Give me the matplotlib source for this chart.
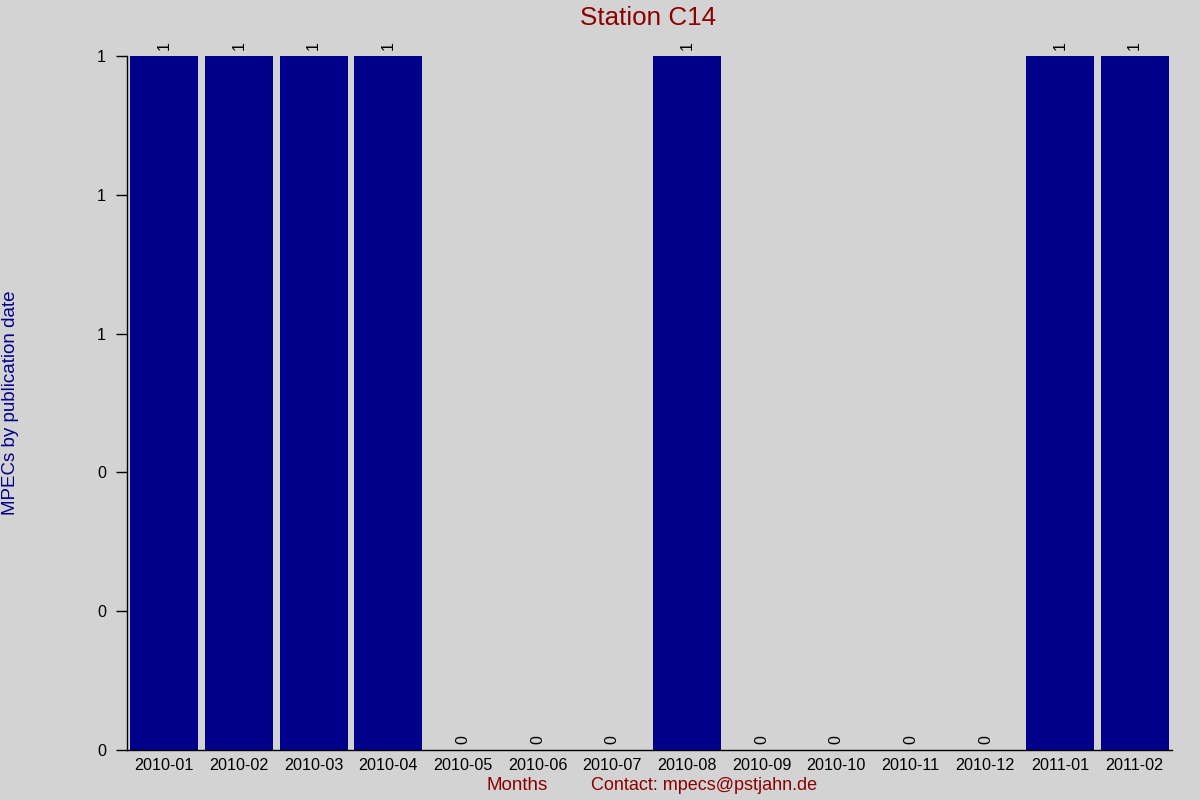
import matplotlib
matplotlib.use("Agg")
import matplotlib.pyplot as plt
from matplotlib.ticker import FixedLocator, FixedFormatter

months = ["2010-01", "2010-02", "2010-03", "2010-04", "2010-05", "2010-06", "2010-07",
          "2010-08", "2010-09", "2010-10", "2010-11", "2010-12", "2011-01", "2011-02"]
counts = [1, 1, 1, 1, 0, 0, 0, 1, 0, 0, 0, 0, 1, 1]
ytick_vals = [0, 0.2, 0.4, 0.6, 0.8, 1.0]
ytick_labels = ["0", "0", "0", "1", "1", "1"]

plt.rcParams['font.family'] = ['Liberation Sans', 'DejaVu Sans']
bg = "#d3d3d3"
fig = plt.figure(figsize=(12, 8), dpi=100, facecolor=bg)
ax = fig.add_axes([127/1200, 1 - 750/800, (1172-127)/1200, (750-56)/800])
ax.set_facecolor(bg)

x = list(range(len(months)))
ax.bar(x, counts, width=0.91, color="#00008b", zorder=2)
for xi, v in zip(x, counts):
    ax.annotate(str(v), (xi, v), xytext=(0, 4), textcoords="offset points",
                rotation=90, ha="center", va="bottom", fontsize=11.5, color="black",
                annotation_clip=False)

ax.set_xlim(-0.5, len(months) - 0.5)
ax.set_ylim(0, 1)
ax.set_xticks(x)
ax.set_xticklabels(months, fontsize=11.6)
ax.tick_params(axis="x", length=0, pad=6)
ax.yaxis.set_major_locator(FixedLocator(ytick_vals))
ax.yaxis.set_major_formatter(FixedFormatter(ytick_labels))
ax.tick_params(axis="y", length=8, width=1, labelsize=11.6, pad=7)
for s in ["top", "right"]:
    ax.spines[s].set_visible(False)
for s in ["left", "bottom"]:
    ax.spines[s].set_linewidth(1)

fig.text(648/1200, 1 - 18/800, "Station C14", ha="center", va="center", fontsize=18.7, color="#8b0000")
fig.text(11/1200, 1 - 403/800, "MPECs by publication date", rotation=90, ha="center", va="center",
         fontsize=13.5, color="#00008b")
fig.text(517/1200, 1 - 786/800, "Months", ha="center", va="center", fontsize=13.5, color="#8b0000")
fig.text(704/1200, 1 - 786/800, "Contact: mpecs@pstjahn.de", ha="center", va="center", fontsize=13, color="#8b0000")

fig.savefig("out.png", dpi=100, facecolor=bg)
